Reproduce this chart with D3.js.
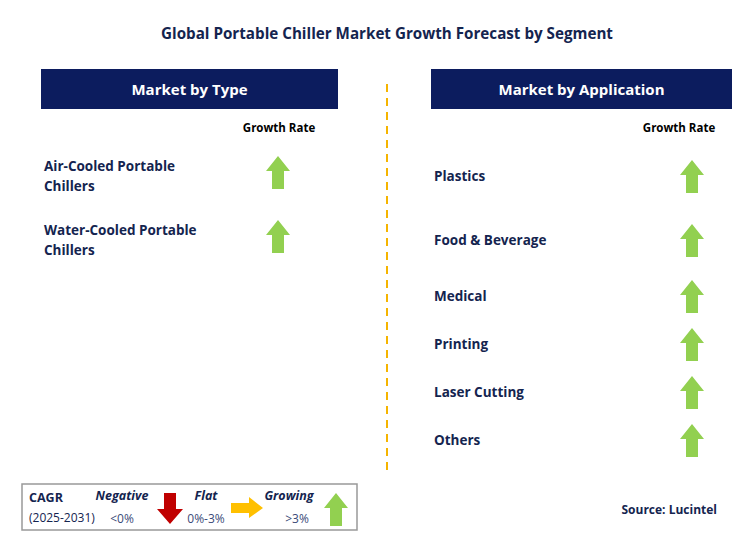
<!DOCTYPE html>
<html><head><meta charset="utf-8">
<script src="https://cdn.jsdelivr.net/npm/d3@7"></script>
<style>body{margin:0;background:#fff}text{font-family:"Open Sans",Arial,sans-serif}</style>
</head><body><svg id="c" width="751" height="545"></svg>
<script>
var title = "Global Portable Chiller Market Growth Forecast by Segment";
var typeNames = [["Air-Cooled Portable", "Chillers"], ["Water-Cooled Portable", "Chillers"]];
var typeGrowth = ["up", "up"];
var appNames = ["Plastics", "Food & Beverage", "Medical", "Printing", "Laser Cutting", "Others"];
var appGrowth = ["up", "up", "up", "up", "up", "up"];
var appRows = [176, 240, 296, 344, 392, 440];

var navy = "#0c1c5e", green = "#92d050", textC = "#14244f";
var svg = d3.select("#c");

svg.append("text").attr("x", 387).attr("y", 39).attr("text-anchor", "middle")
  .attr("font-size", 15.2).attr("font-weight", "bold").attr("fill", textC).text(title);

function upArrow(g, cx, cy) {
  var pts = [[0,-17],[12,-2],[6,-2],[6,16],[-6,16],[-6,-2],[-12,-2]];
  g.append("polygon").attr("points", pts.map(function(p){return (cx+p[0])+","+(cy+p[1]);}).join(" ")).attr("fill", green);
}

function header(x, w, label) {
  svg.append("rect").attr("x", x).attr("y", 69).attr("width", w).attr("height", 40).attr("fill", navy);
  svg.append("text").attr("x", x + w/2).attr("y", 95).attr("text-anchor", "middle")
    .attr("font-size", 15).attr("font-weight", "bold").attr("fill", "#fff").text(label);
}
header(41, 297, "Market by Type");
header(431, 301, "Market by Application");

svg.append("text").attr("x", 279).attr("y", 132).attr("text-anchor", "middle").attr("font-size", 11.5).attr("font-weight", "bold").attr("fill", "#000").text("Growth Rate");
svg.append("text").attr("x", 679).attr("y", 132).attr("text-anchor", "middle").attr("font-size", 11.5).attr("font-weight", "bold").attr("fill", "#000").text("Growth Rate");

// left panel
var yType = d3.scalePoint().domain(d3.range(typeNames.length)).range([176, 240]);
typeNames.forEach(function(lines, i) {
  var t = svg.append("text").attr("x", 44).attr("y", yType(i) - 5).attr("font-size", 13.5).attr("font-weight", "bold").attr("fill", textC);
  lines.forEach(function(l, j){ t.append("tspan").attr("x", 44).attr("dy", j ? 20 : 0).text(l); });
  if (typeGrowth[i] === "up") upArrow(svg, 278, yType(i) - 3);
});

// right panel
appNames.forEach(function(n, i) {
  svg.append("text").attr("x", 434).attr("y", appRows[i] + 5).attr("font-size", 13.5).attr("font-weight", "bold").attr("fill", textC).text(n);
  if (appGrowth[i] === "up") upArrow(svg, 692, appRows[i] + 1);
});

svg.append("line").attr("x1", 387).attr("x2", 387).attr("y1", 84).attr("y2", 476)
  .attr("stroke", "#f5b400").attr("stroke-width", 2).attr("stroke-dasharray", "8,6");

// legend
var lg = svg.append("g");
lg.append("rect").attr("x", 22).attr("y", 484).attr("width", 335).attr("height", 46).attr("fill", "#fff").attr("stroke", "#999").attr("stroke-width", 1.5);
lg.append("text").attr("x", 29).attr("y", 502).attr("font-size", 12.5).attr("font-weight", "bold").attr("fill", textC).text("CAGR");
lg.append("text").attr("x", 29).attr("y", 522).attr("font-size", 12).attr("fill", textC).text("(2025-2031)");
[["Negative", 122, "<0%", 122], ["Flat", 206, "0%-3%", 206], ["Growing", 289, ">3%", 297]].forEach(function(d){
  lg.append("text").attr("x", d[1]).attr("y", 500).attr("text-anchor", "middle").attr("font-size", 12.5).attr("font-weight", "bold").attr("font-style", "italic").attr("fill", textC).text(d[0]);
  lg.append("text").attr("x", d[3]).attr("y", 523).attr("text-anchor", "middle").attr("font-size", 12).attr("fill", "#3a4a78").text(d[2]);
});
lg.append("polygon").attr("points", "164,493 176,493 176,509 183,509 170,524 157,509 164,509").attr("fill", "#c00000");
lg.append("polygon").attr("points", "231,503 249,503 249,497 263,508 249,518 249,513 231,513").attr("fill", "#ffc000");
upArrow(lg, 336, 510);

svg.append("text").attr("x", 717).attr("y", 514).attr("text-anchor", "end").attr("font-size", 12).attr("font-weight", "bold").attr("fill", textC).text("Source: Lucintel");
</script></body></html>
